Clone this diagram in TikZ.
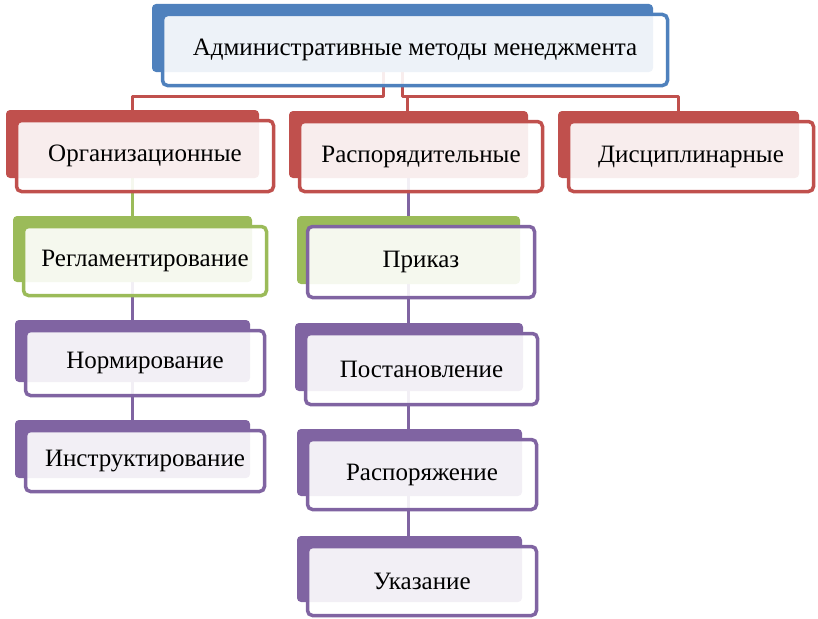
\documentclass[tikz,border=0pt]{standalone}
\usepackage{fontspec}
\setmainfont{Liberation Serif}
\newfontfamily\tnrfont{Liberation Serif}
\definecolor{cblue}{HTML}{4F81BD}
\definecolor{cred}{HTML}{C0504D}
\definecolor{cgreen}{HTML}{9BBB59}
\definecolor{cpurple}{HTML}{8064A2}
\pgfdeclarelayer{bg}
\pgfsetlayers{bg,main}
\tikzset{
  backbox/.style={rectangle, rounded corners=4pt, inner sep=0pt, outer sep=0pt, draw=none},
  frontbox/.style={rectangle, rounded corners=5pt, inner sep=0pt, outer sep=0pt, line width=3.5pt,
    fill=white, fill opacity=0.9, text opacity=1, font=\tnrfont\fontsize{25}{30}\selectfont},
  conn/.style={line width=3pt, line join=round}
}
% #1 name, #2 back colour, #3 frame colour, #4..#7 back rectangle (x1,y1,x2,y2), #8 text
\newcommand\mybox[8]{%
  \node[backbox, fill=#2, minimum width={(#6-#4)*1pt}, minimum height={(#7-#5)*1pt}]
    (#1b) at ({(#4+#6)/2},{(#5+#7)/2}) {};
  \node[frontbox, draw=#3, minimum width={(#6-#4+4)*1pt}, minimum height={(#7-#5+3)*1pt}]
    (#1) at ({(#4+#6)/2+12.5},{(#5+#7)/2+12}) {#8};
}
\begin{document}
\begin{tikzpicture}[x=1pt,y=-1pt]
\useasboundingbox (0,0) rectangle (818,618);
\mybox{top}{cblue}{cblue}{152}{4}{653}{72}{Административные методы менеджмента}
\mybox{org}{cred}{cred}{6}{110}{259}{178}{Организационные}
\mybox{ras}{cred}{cred}{289}{111}{528}{178}{Распорядительные}
\mybox{dis}{cred}{cred}{558}{111}{799}{178}{Дисциплинарные}
\mybox{reg}{cgreen}{cgreen}{13}{216}{252}{282}{Регламентирование}
\mybox{nor}{cpurple}{cpurple}{15}{320}{250}{382}{Нормирование}
\mybox{ins}{cpurple}{cpurple}{15}{420}{250}{478}{Инструктирование}
\mybox{pri}{cgreen}{cpurple}{297}{216}{520}{284}{Приказ}
\mybox{pos}{cpurple}{cpurple}{295}{323}{523}{391}{Постановление}
\mybox{rsp}{cpurple}{cpurple}{297}{429}{522}{496}{Распоряжение}
\mybox{uka}{cpurple}{cpurple}{297}{536}{522}{602}{Указание}
\coordinate (jl) at (383,96);
\coordinate (jr) at (402,96);
\coordinate (jm) at (407,96);
\begin{pgfonlayer}{bg}
\draw[conn, cred] (topb.south -| jl) -- (jl) -| (orgb.north);
\draw[conn, cred] (topb.south -| jr) -- (jr) -- (jm) -- (jm |- rasb.north);
\draw[conn, cred] (jm) -| (disb.north);
\draw[conn, cgreen] (orgb.south) -- (orgb.south |- regb.north);
\draw[conn, cpurple] (regb.south) -- (regb.south |- norb.north);
\draw[conn, cpurple] (norb.south) -- (norb.south |- insb.north);
\draw[conn, cpurple] (rasb.south) -- (rasb.south |- prib.north);
\draw[conn, cpurple] (rasb.south |- prib.south) -- (rasb.south |- posb.north);
\draw[conn, cpurple] (rasb.south |- posb.south) -- (rasb.south |- rspb.north);
\draw[conn, cpurple] (rasb.south |- rspb.south) -- (rasb.south |- ukab.north);
\end{pgfonlayer}
\end{tikzpicture}
\end{document}
